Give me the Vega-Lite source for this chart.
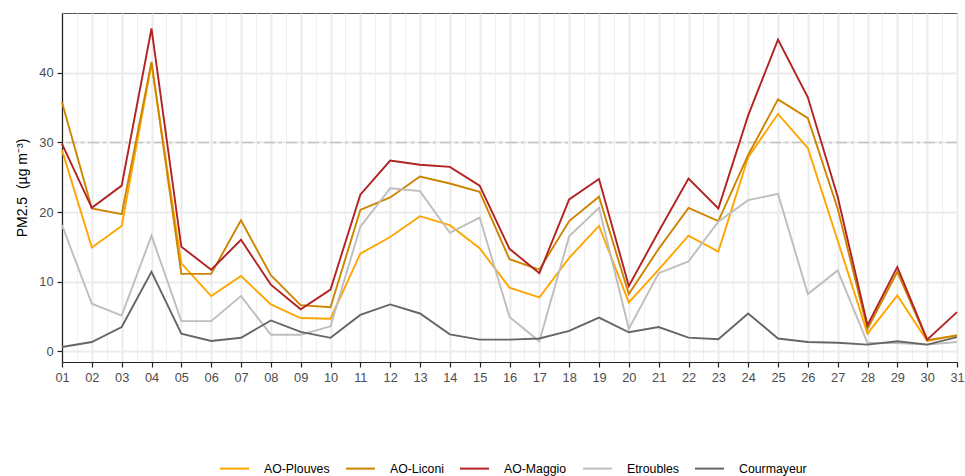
{
  "$schema": "https://vega.github.io/schema/vega-lite/v6.json",
  "width": 895,
  "height": 349,
  "autosize": {"type": "none"},
  "padding": {"left": 62, "top": 13, "right": 8, "bottom": 114},
  "background": "white",
  "config": {
    "view": {"stroke": "#555555", "strokeWidth": 1},
    "font": "Liberation Sans",
    "axis": {
      "labelFont": "Liberation Sans",
      "titleFont": "Liberation Sans",
      "labelFontSize": 12.8,
      "labelColor": "#4D4D4D",
      "domainColor": "#222222",
      "domainWidth": 1.2,
      "tickColor": "#222222",
      "tickWidth": 1.2,
      "gridColor": "#EBEBEB"
    }
  },
  "data": {
    "values": [
      {"day": 1, "AO-Plouves": 28.9, "AO-Liconi": 35.8, "AO-Maggio": 29.8, "Etroubles": 18.1, "Courmayeur": 0.58},
      {"day": 2, "AO-Plouves": 14.9, "AO-Liconi": 20.5, "AO-Maggio": 20.6, "Etroubles": 6.8, "Courmayeur": 1.3},
      {"day": 3, "AO-Plouves": 18.0, "AO-Liconi": 19.7, "AO-Maggio": 23.8, "Etroubles": 5.1, "Courmayeur": 3.45},
      {"day": 4, "AO-Plouves": 41.3, "AO-Liconi": 41.6, "AO-Maggio": 46.4, "Etroubles": 16.6, "Courmayeur": 11.4},
      {"day": 5, "AO-Plouves": 12.6, "AO-Liconi": 11.1, "AO-Maggio": 15.0, "Etroubles": 4.3, "Courmayeur": 2.5},
      {"day": 6, "AO-Plouves": 7.9, "AO-Liconi": 11.1, "AO-Maggio": 11.7, "Etroubles": 4.3, "Courmayeur": 1.45},
      {"day": 7, "AO-Plouves": 10.8, "AO-Liconi": 18.8, "AO-Maggio": 16.0, "Etroubles": 7.9, "Courmayeur": 1.9},
      {"day": 8, "AO-Plouves": 6.7, "AO-Liconi": 10.9, "AO-Maggio": 9.55, "Etroubles": 2.35, "Courmayeur": 4.4},
      {"day": 9, "AO-Plouves": 4.75, "AO-Liconi": 6.6, "AO-Maggio": 6.0, "Etroubles": 2.35, "Courmayeur": 2.75},
      {"day": 10, "AO-Plouves": 4.65, "AO-Liconi": 6.3, "AO-Maggio": 8.83, "Etroubles": 3.55, "Courmayeur": 1.9},
      {"day": 11, "AO-Plouves": 14.0, "AO-Liconi": 20.3, "AO-Maggio": 22.5, "Etroubles": 17.9, "Courmayeur": 5.2},
      {"day": 12, "AO-Plouves": 16.4, "AO-Liconi": 22.1, "AO-Maggio": 27.4, "Etroubles": 23.4, "Courmayeur": 6.7},
      {"day": 13, "AO-Plouves": 19.4, "AO-Liconi": 25.1, "AO-Maggio": 26.8, "Etroubles": 23.0, "Courmayeur": 5.4},
      {"day": 14, "AO-Plouves": 18.1, "AO-Liconi": 24.1, "AO-Maggio": 26.5, "Etroubles": 17.0, "Courmayeur": 2.4},
      {"day": 15, "AO-Plouves": 14.8, "AO-Liconi": 22.9, "AO-Maggio": 23.8, "Etroubles": 19.2, "Courmayeur": 1.64},
      {"day": 16, "AO-Plouves": 9.1, "AO-Liconi": 13.2, "AO-Maggio": 14.7, "Etroubles": 4.9, "Courmayeur": 1.64},
      {"day": 17, "AO-Plouves": 7.7, "AO-Liconi": 11.7, "AO-Maggio": 11.2, "Etroubles": 1.4, "Courmayeur": 1.8},
      {"day": 18, "AO-Plouves": 13.4, "AO-Liconi": 18.7, "AO-Maggio": 21.8, "Etroubles": 16.5, "Courmayeur": 2.9},
      {"day": 19, "AO-Plouves": 18.0, "AO-Liconi": 22.2, "AO-Maggio": 24.75, "Etroubles": 20.6, "Courmayeur": 4.8},
      {"day": 20, "AO-Plouves": 7.0, "AO-Liconi": 8.2, "AO-Maggio": 9.35, "Etroubles": 3.2, "Courmayeur": 2.7},
      {"day": 21, "AO-Plouves": 11.7, "AO-Liconi": 14.7, "AO-Maggio": 17.2, "Etroubles": 11.2, "Courmayeur": 3.45},
      {"day": 22, "AO-Plouves": 16.6, "AO-Liconi": 20.6, "AO-Maggio": 24.8, "Etroubles": 12.9, "Courmayeur": 1.93},
      {"day": 23, "AO-Plouves": 14.3, "AO-Liconi": 18.7, "AO-Maggio": 20.5, "Etroubles": 18.6, "Courmayeur": 1.7},
      {"day": 24, "AO-Plouves": 27.9, "AO-Liconi": 28.2, "AO-Maggio": 33.9, "Etroubles": 21.7, "Courmayeur": 5.4},
      {"day": 25, "AO-Plouves": 34.1, "AO-Liconi": 36.2, "AO-Maggio": 44.8, "Etroubles": 22.6, "Courmayeur": 1.8},
      {"day": 26, "AO-Plouves": 29.2, "AO-Liconi": 33.5, "AO-Maggio": 36.5, "Etroubles": 8.2, "Courmayeur": 1.3},
      {"day": 27, "AO-Plouves": 15.9, "AO-Liconi": 20.5, "AO-Maggio": 22.2, "Etroubles": 11.6, "Courmayeur": 1.2},
      {"day": 28, "AO-Plouves": 2.5, "AO-Liconi": 3.2, "AO-Maggio": 3.7, "Etroubles": 1.15, "Courmayeur": 0.92},
      {"day": 29, "AO-Plouves": 8.0, "AO-Liconi": 11.4, "AO-Maggio": 12.1, "Etroubles": 1.15, "Courmayeur": 1.4},
      {"day": 30, "AO-Plouves": 1.45, "AO-Liconi": 1.55, "AO-Maggio": 1.64, "Etroubles": 0.92, "Courmayeur": 0.92},
      {"day": 31, "AO-Plouves": 2.25, "AO-Liconi": 2.25, "AO-Maggio": 5.6, "Etroubles": 1.3, "Courmayeur": 2.0}
    ]
  },
  "layer": [
    {
      "data": {"values": [{"threshold": 30}]},
      "mark": {"type": "rule", "color": "#C4C4C4", "strokeWidth": 1.4, "strokeDash": [11, 4, 3, 4]},
      "encoding": {
        "y": {"field": "threshold", "type": "quantitative", "scale": {"domain": [-1.58, 48.63], "nice": false, "zero": false}}
      }
    },
    {
      "transform": [
        {"fold": ["AO-Plouves", "AO-Liconi", "AO-Maggio", "Etroubles", "Courmayeur"], "as": ["station", "value"]}
      ],
      "mark": {"type": "line", "strokeWidth": 1.9},
      "encoding": {
        "x": {
          "field": "day",
          "type": "quantitative",
          "scale": {"domain": [1, 31], "nice": false, "zero": false},
          "axis": {
            "title": null,
            "values": [1,1.5,2,2.5,3,3.5,4,4.5,5,5.5,6,6.5,7,7.5,8,8.5,9,9.5,10,10.5,11,11.5,12,12.5,13,13.5,14,14.5,15,15.5,16,16.5,17,17.5,18,18.5,19,19.5,20,20.5,21,21.5,22,22.5,23,23.5,24,24.5,25,25.5,26,26.5,27,27.5,28,28.5,29,29.5,30,30.5,31],
            "labelExpr": "datum.value % 1 === 0 ? (datum.value < 10 ? '0' + datum.value : '' + datum.value) : ''",
            "grid": true,
            "gridWidth": {"condition": {"test": "datum.value % 1 === 0", "value": 2}, "value": 1},
            "gridColor": {"condition": {"test": "datum.value % 1 === 0", "value": "#EBEBEB"}, "value": "#F0F0F0"},
            "tickOpacity": {"condition": {"test": "datum.value % 1 === 0", "value": 1}, "value": 0},
            "tickSize": 5,
            "labelPadding": 4,
            "labelFlush": false,
            "labelOverlap": false
          }
        },
        "y": {
          "field": "value",
          "type": "quantitative",
          "scale": {"domain": [-1.58, 48.63], "nice": false, "zero": false},
          "axis": {
            "title": "PM2.5\u00a0\u00a0(µg m⁻³)",
            "titleFontSize": 14,
            "titleFontWeight": "normal",
            "titleColor": "#000000",
            "titlePadding": 9,
            "values": [0, 5, 10, 15, 20, 25, 30, 35, 40, 45],
            "labelExpr": "datum.value % 10 === 0 ? datum.label : ''",
            "grid": true,
            "gridWidth": {"condition": {"test": "datum.value % 10 === 0", "value": 2}, "value": 1},
            "gridColor": {"condition": {"test": "datum.value % 10 === 0", "value": "#EBEBEB"}, "value": "#F0F0F0"},
            "tickOpacity": {"condition": {"test": "datum.value % 10 === 0", "value": 1}, "value": 0},
            "tickSize": 5,
            "labelPadding": 4,
            "labelOverlap": false
          }
        },
        "color": {
          "field": "station",
          "type": "nominal",
          "scale": {
            "domain": ["AO-Plouves", "AO-Liconi", "AO-Maggio", "Etroubles", "Courmayeur"],
            "range": ["#FFA500", "#CD8500", "#B22222", "#BEBEBE", "#666666"]
          },
          "legend": {
            "title": null,
            "orient": "none",
            "direction": "horizontal",
            "legendX": 157,
            "legendY": 440,
            "symbolType": "stroke",
            "symbolSize": 841,
            "symbolStrokeWidth": 2,
            "labelFont": "Liberation Sans",
            "labelFontSize": 12.3,
            "labelColor": "#000000",
            "labelOffset": 14,
            "columnPadding": 12
          }
        }
      }
    }
  ]
}
